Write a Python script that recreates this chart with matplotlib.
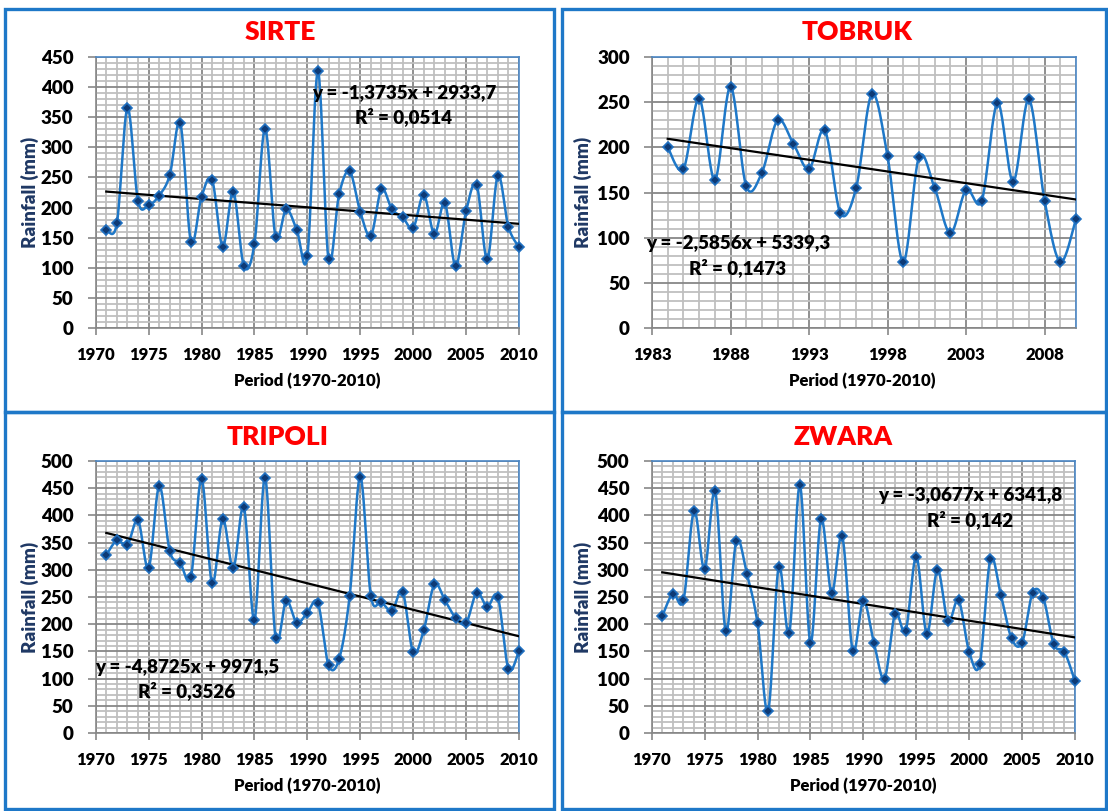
import numpy as np
import matplotlib
matplotlib.use("Agg")
import matplotlib.pyplot as plt
from matplotlib.patches import Rectangle
from matplotlib.ticker import MultipleLocator

plt.rcParams['font.family'] = ['Lato', 'DejaVu Sans']
plt.rcParams['font.weight'] = 'heavy'

# ---------------- data ----------------
sirte_years = list(range(1971, 2011))
sirte_rain = [163, 174, 365, 211, 204, 220, 254, 340, 143, 218,
              246, 135, 226, 103, 140, 331, 151, 197, 163, 119,
              426, 114, 222, 260, 193, 153, 230, 197, 184, 166,
              221, 156, 207, 103, 194, 238, 114, 253, 168, 134]

tobruk_years = list(range(1984, 2011))
tobruk_rain = [200, 176, 254, 164, 267, 157, 172, 230, 204, 176,
               219, 127, 155, 259, 190, 73, 189, 155, 105, 153,
               141, 249, 162, 253, 141, 73, 121]

tripoli_years = list(range(1971, 2011))
tripoli_rain = [327, 354, 346, 391, 303, 454, 334, 312, 287, 467,
                275, 393, 303, 415, 208, 469, 175, 243, 203, 221,
                239, 125, 136, 252, 471, 252, 241, 224, 260, 148,
                189, 273, 244, 212, 202, 258, 232, 250, 118, 151]

zwara_years = list(range(1971, 2011))
zwara_rain = [215, 256, 244, 408, 301, 444, 187, 353, 292, 202,
              40, 305, 184, 455, 166, 393, 257, 362, 151, 243,
              166, 100, 219, 188, 324, 182, 300, 205, 244, 149,
              127, 319, 253, 174, 166, 258, 248, 163, 149, 95]

titles = ["SIRTE", "TOBRUK", "TRIPOLI", "ZWARA"]
slopes = [-1.3735, -2.5856, -4.8725, -3.0677]
intercepts = [2933.7, 5339.3, 9971.5, 6341.8]
eq_texts = ["y = -1,3735x + 2933,7", "y = -2,5856x + 5339,3",
            "y = -4,8725x + 9971,5", "y = -3,0677x + 6341,8"]
r2_texts = ["R² = 0,0514", "R² = 0,1473", "R² = 0,3526", "R² = 0,142"]
xlims = [(1970, 2010), (1983, 2010), (1970, 2010), (1970, 2010)]
ylims = [450, 300, 500, 500]
xlabel = "Period (1970-2010)"
ylabel = "Rainfall (mm)"

# ---------------- layout ----------------
W, H = 1108, 811
fig = plt.figure(figsize=(W / 100, H / 100), dpi=100)


def fx(x):
    return x / W


def fy(y):
    return 1 - y / H


def add_ax(l, r, t, b):
    return fig.add_axes([fx(l), fy(b), (r - l) / W, (b - t) / H])


def smooth(x, y, n=24):
    x = np.asarray(x, float)
    y = np.asarray(y, float)
    P = np.column_stack([x, y])
    Pe = np.vstack([P[0], P, P[-1]])
    out = []
    t = np.linspace(0, 1, n)[:, None]
    for i in range(len(P) - 1):
        p0, p1, p2, p3 = Pe[i], Pe[i + 1], Pe[i + 2], Pe[i + 3]
        c1 = p1 + (p2 - p0) / 6
        c2 = p2 - (p3 - p1) / 6
        seg = ((1 - t) ** 3) * p1 + 3 * ((1 - t) ** 2) * t * c1 + 3 * (1 - t) * t ** 2 * c2 + t ** 3 * p2
        out.append(seg if i == 0 else seg[1:])
    arr = np.vstack(out)
    return arr[:, 0], arr[:, 1]


border_col = '#1E78C8'
for (l, t, r, b) in [(5, 9, 554, 411.5), (562, 9, 1106, 411.5),
                     (5, 411.5, 554, 809), (562, 411.5, 1106, 809)]:
    fig.patches.append(Rectangle((fx(l), fy(b)), (r - l) / W, (b - t) / H,
                                 transform=fig.transFigure, fill=False,
                                 edgecolor=border_col, linewidth=2.4, zorder=10))

ax_boxes = [(95.7, 519, 57, 328), (652, 1076, 57, 328),
            (95.7, 519, 461, 733), (651.7, 1075, 461, 733)]
datasets = [(sirte_years, sirte_rain), (tobruk_years, tobruk_rain),
            (tripoli_years, tripoli_rain), (zwara_years, zwara_rain)]

title_pos = [(280, 32), (857, 32), (278, 437), (843, 437)]
ylab_pos = [(30, 192), (583, 192), (30, 597), (583, 597)]
xlab_pos = [(307, 381), (862, 381), (307, 786), (863, 786)]
eq_pos = [(404, 93), (738, 243), (187, 667), (970, 496)]
r2_pos = [(404, 117), (738, 268), (187, 691), (970, 520)]

for i in range(4):
    l, r, t, b = ax_boxes[i]
    ax = add_ax(l, r, t, b)
    yrs, vals = datasets[i]
    x0, x1 = xlims[i]
    ax.set_xlim(x0, x1)
    ax.set_ylim(0, ylims[i])
    ax.xaxis.set_major_locator(MultipleLocator(5))
    ax.xaxis.set_minor_locator(MultipleLocator(1))
    if i == 1:
        ax.set_xticks(np.arange(1983, 2011, 5))
    ax.yaxis.set_major_locator(MultipleLocator(50))
    ax.yaxis.set_minor_locator(MultipleLocator(10))
    ax.grid(which='minor', color='#BFBFBF', linewidth=1.3, zorder=0)
    ax.grid(which='major', color='#878787', linewidth=1.3, zorder=0.5)
    ax.set_axisbelow(True)
    ax.tick_params(axis='x', which='major', direction='out', length=5, width=1.2,
                   color='#878787', labelsize=12, pad=9)
    ax.tick_params(axis='y', which='major', direction='out', length=6, width=1.2,
                   color='#878787', labelsize=13.5, pad=10)
    ax.tick_params(which='minor', length=0)
    for lab in ax.get_xticklabels() + ax.get_yticklabels():
        lab.set_fontweight('heavy')
    for s in ['left', 'bottom']:
        ax.spines[s].set_color('#878787')
        ax.spines[s].set_linewidth(1.2)
    for s in ['top', 'right']:
        ax.spines[s].set_color('#4A86C5')
        ax.spines[s].set_linewidth(1.2)

    sx, sy = smooth(yrs, vals)
    ax.plot(sx, sy, color='#1F78C8', linewidth=1.8, zorder=3, clip_on=False)
    ax.plot(yrs, vals, linestyle='none', marker='D', markersize=5.5,
            markerfacecolor='#0E3A75', markeredgecolor='#1F6FC0',
            markeredgewidth=1.2, zorder=4, clip_on=False)
    tx = np.array([yrs[0], yrs[-1]], float)
    ax.plot(tx, slopes[i] * tx + intercepts[i], color='black', linewidth=1.6, zorder=3.5)

    fig.text(fx(title_pos[i][0]), fy(title_pos[i][1]), titles[i], color='#FF0000',
             fontsize=19, fontweight='heavy', ha='center', va='center')
    fig.text(fx(ylab_pos[i][0]), fy(ylab_pos[i][1]), ylabel, color='#1F3864',
             fontsize=13.5, fontweight='heavy', ha='center', va='center', rotation=90)
    fig.text(fx(xlab_pos[i][0]), fy(xlab_pos[i][1]), xlabel, color='black',
             fontsize=12, fontweight='heavy', ha='center', va='center')
    fig.text(fx(eq_pos[i][0]), fy(eq_pos[i][1]), eq_texts[i], color='black',
             fontsize=13.5, fontweight='heavy', ha='center', va='center', zorder=6)
    fig.text(fx(r2_pos[i][0]), fy(r2_pos[i][1]), r2_texts[i], color='black',
             fontsize=13.5, fontweight='heavy', ha='center', va='center', zorder=6)

fig.savefig("out.png", dpi=100)
